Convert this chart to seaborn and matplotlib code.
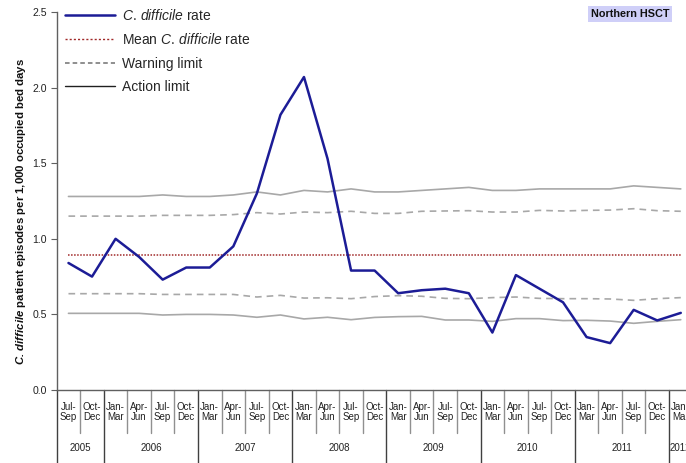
import matplotlib
matplotlib.use("Agg")
import matplotlib.pyplot as plt
import matplotlib.transforms as mtransforms
from matplotlib.lines import Line2D
import seaborn as sns
import pandas as pd

# ---------------- data ----------------
quarter_labels = ["Jul-\nSep", "Oct-\nDec",
                  "Jan-\nMar", "Apr-\nJun", "Jul-\nSep", "Oct-\nDec",
                  "Jan-\nMar", "Apr-\nJun", "Jul-\nSep", "Oct-\nDec",
                  "Jan-\nMar", "Apr-\nJun", "Jul-\nSep", "Oct-\nDec",
                  "Jan-\nMar", "Apr-\nJun", "Jul-\nSep", "Oct-\nDec",
                  "Jan-\nMar", "Apr-\nJun", "Jul-\nSep", "Oct-\nDec",
                  "Jan-\nMar", "Apr-\nJun", "Jul-\nSep", "Oct-\nDec",
                  "Jan-\nMar"]
year_labels = ["2005", "2006", "2007", "2008", "2009", "2010", "2011", "2012"]
year_counts = [2, 4, 4, 4, 4, 4, 4, 1]

cdiff_rate = [0.84, 0.75, 1.00, 0.88, 0.73, 0.81, 0.81, 0.95, 1.30, 1.82,
              2.07, 1.53, 0.79, 0.79, 0.64, 0.66, 0.67, 0.64, 0.38, 0.76,
              0.67, 0.58, 0.35, 0.31, 0.53, 0.46, 0.51]
mean_rate = 0.89
upper_action = [1.28, 1.28, 1.28, 1.28, 1.29, 1.28, 1.28, 1.29, 1.31, 1.29,
                1.32, 1.31, 1.33, 1.31, 1.31, 1.32, 1.33, 1.34, 1.32, 1.32,
                1.33, 1.33, 1.33, 1.33, 1.35, 1.34, 1.33]
upper_warning = [1.15, 1.15, 1.15, 1.15, 1.155, 1.155, 1.155, 1.16, 1.173, 1.164,
                 1.177, 1.173, 1.182, 1.168, 1.168, 1.182, 1.184, 1.186, 1.177, 1.177,
                 1.188, 1.184, 1.188, 1.19, 1.199, 1.186, 1.182]
lower_warning = [0.637, 0.637, 0.637, 0.637, 0.632, 0.632, 0.632, 0.632, 0.615, 0.626,
                 0.608, 0.61, 0.604, 0.618, 0.624, 0.62, 0.606, 0.604, 0.611, 0.615,
                 0.606, 0.604, 0.604, 0.602, 0.593, 0.604, 0.611]
lower_action = [0.507, 0.507, 0.507, 0.507, 0.496, 0.5, 0.5, 0.496, 0.481, 0.496,
                0.47, 0.481, 0.465, 0.48, 0.485, 0.487, 0.463, 0.463, 0.454, 0.472,
                0.472, 0.459, 0.461, 0.456, 0.441, 0.454, 0.465]

# ---------------- style ----------------
sns.set_theme(style="white")
plt.rcParams["font.family"] = ["Liberation Sans", "DejaVu Sans"]
plt.rcParams["mathtext.fontset"] = "custom"
plt.rcParams["mathtext.rm"] = "Liberation Sans"
plt.rcParams["mathtext.it"] = "Liberation Sans:italic"
plt.rcParams["mathtext.bf"] = "Liberation Sans:bold"
plt.rcParams["mathtext.bfit"] = "Liberation Sans:italic:bold"

W, H = 686, 463
fig = plt.figure(figsize=(W / 100, H / 100), dpi=100)
ax_left, ax_bottom_px, ax_top_px = 56.7, 390, 12
step = 23.55
n = len(cdiff_rate)
ax = fig.add_axes([ax_left / W, (H - ax_bottom_px) / H, n * step / W,
                   (ax_bottom_px - ax_top_px) / H])

df = pd.DataFrame({
    "idx": list(range(n)),
    "rate": cdiff_rate,
    "mean": [mean_rate] * n,
    "ua": upper_action,
    "uw": upper_warning,
    "lw": lower_warning,
    "la": lower_action,
})

lim_col = "#a8a8a8"
sns.lineplot(data=df, x="idx", y="ua", ax=ax, color=lim_col, lw=1.2)
sns.lineplot(data=df, x="idx", y="la", ax=ax, color=lim_col, lw=1.2)
sns.lineplot(data=df, x="idx", y="uw", ax=ax, color=lim_col, lw=1.2,
             linestyle=(0, (4, 3)))
sns.lineplot(data=df, x="idx", y="lw", ax=ax, color=lim_col, lw=1.2,
             linestyle=(0, (4, 3)))
sns.lineplot(data=df, x="idx", y="mean", ax=ax, color="#a02828", lw=1.1,
             linestyle=(0, (1, 1)))
sns.lineplot(data=df, x="idx", y="rate", ax=ax, color="#1c1c96", lw=1.8)

ax.set_xlim(-0.5, n - 0.5)
ax.set_ylim(0, 2.5)
ax.set_yticks([0.0, 0.5, 1.0, 1.5, 2.0, 2.5])
ax.set_yticklabels(["0.0", "0.5", "1.0", "1.5", "2.0", "2.5"], fontsize=7.6)
ax.set_xticks([])
ax.set_xlabel("")
ax.set_ylabel("")
for s in ["top", "right"]:
    ax.spines[s].set_visible(False)
ax.spines["left"].set_color("#606060")
ax.spines["bottom"].set_color("#606060")
ax.spines["left"].set_linewidth(1.0)
ax.spines["bottom"].set_linewidth(1.0)
ax.tick_params(axis="y", direction="out", length=4, width=0.8, color="#606060",
               left=True, pad=3, labelcolor="#222222")

# ---- category axis below ----
trans = mtransforms.blended_transform_factory(ax.transData, ax.transAxes)
ax_h = ax_bottom_px - ax_top_px
q_sep_y = (ax_bottom_px - 433) / ax_h
y_sep_y = (ax_bottom_px - 480) / ax_h
q_lab_y = (ax_bottom_px - 412) / ax_h
y_lab_y = (ax_bottom_px - 448) / ax_h

year_bounds = set()
pos = -0.5
for c in year_counts:
    year_bounds.add(round(pos, 1))
    pos += c
year_bounds.add(round(pos, 1))

for k in range(n + 1):
    b = k - 0.5
    if round(b, 1) in year_bounds:
        ax.plot([b, b], [0, y_sep_y], transform=trans, color="#404040",
                lw=1.0, clip_on=False)
    else:
        ax.plot([b, b], [0, q_sep_y], transform=trans, color="#909090",
                lw=1.0, clip_on=False)

for i, lab in enumerate(quarter_labels):
    ax.text(i, q_lab_y, lab, transform=trans, ha="center", va="center",
            fontsize=7.0, linespacing=1.0, color="#222222")

start = 0
for lab, c in zip(year_labels, year_counts):
    ax.text(start + (c - 1) / 2, y_lab_y, lab, transform=trans, ha="center",
            va="center", fontsize=7.0, color="#222222")
    start += c

# ---- y label ----
fig.text(21 / W, 1 - 211 / H,
         r"$\mathbfit{C.\,difficile}$ patient episodes per 1,000 occupied bed days",
         rotation=90, ha="center", va="center", fontsize=8.2, fontweight="bold",
         color="#111111")

# ---- legend ----
handles = [
    Line2D([], [], color="#1c1c96", lw=1.8),
    Line2D([], [], color="#a02828", lw=1.0, linestyle=(0, (1.5, 1.5))),
    Line2D([], [], color="#707070", lw=1.1, linestyle=(0, (3, 2))),
    Line2D([], [], color="#202020", lw=1.0),
]
labels = [r"$\it{C.\,difficile}$ rate", r"Mean $\it{C.\,difficile}$ rate",
          "Warning limit", "Action limit"]
fig.legend(handles, labels, loc="upper left",
           bbox_to_anchor=(55 / W, 1 + 2 / H), frameon=False, fontsize=10,
           handlelength=3.6, handletextpad=0.5, labelspacing=0.68,
           borderpad=0.2)

# ---- region tag ----
fig.text(630 / W, 1 - 14 / H, "Northern HSCT", ha="center", va="center",
         fontsize=7.8, fontweight="bold", color="#111111",
         bbox=dict(boxstyle="square,pad=0.25", fc="#cfcff8", ec="none"))

fig.savefig("out.png", dpi=100)
